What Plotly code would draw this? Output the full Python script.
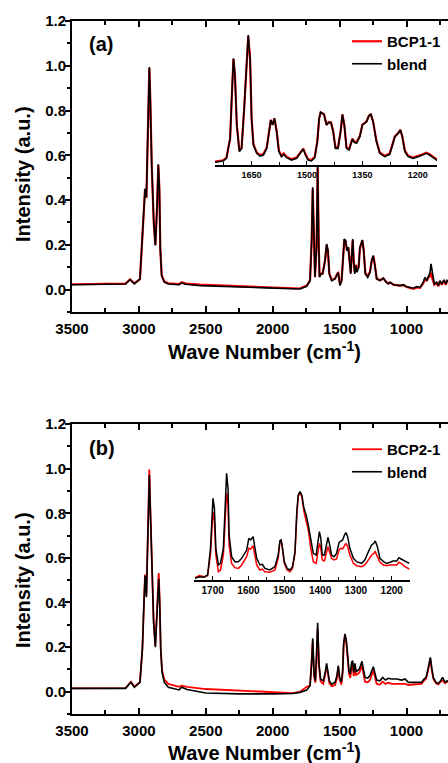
import plotly.graph_objects as go

# ---------------- data ----------------
# Panel (a) main spectrum
wn_a = [3500, 3300, 3100, 3066, 3034, 2992, 2979, 2967, 2954, 2944, 2937, 2930, 2922, 2915, 2904,
        2889, 2877, 2865, 2855, 2847, 2840, 2830, 2810, 2780, 2700, 2680, 2650, 2543, 2300, 2045,
        1796, 1746, 1721, 1709, 1701, 1691, 1684, 1672, 1664, 1656, 1650, 1641, 1627, 1609, 1597,
        1587, 1577, 1559, 1534, 1517, 1510, 1497, 1485, 1472, 1465, 1455, 1445, 1435, 1425, 1417,
        1410, 1402, 1395, 1387, 1380, 1370, 1358, 1348, 1340, 1330, 1320, 1308, 1290, 1273, 1260,
        1248, 1238, 1223, 1198, 1173, 1153, 1136, 1123, 1098, 1049, 1024, 999, 974, 949, 924,
        899, 874, 862, 849, 837, 824, 817, 807, 792, 775, 762, 750, 737, 720, 707, 697, 690]
blend_a = [0.022, 0.022, 0.025, 0.045, 0.026, 0.047, 0.182, 0.36, 0.45, 0.412, 0.629, 0.852, 0.995, 0.852, 0.554,
           0.301, 0.197, 0.36, 0.56, 0.45, 0.182, 0.063, 0.033, 0.025, 0.022, 0.03, 0.024, 0.018, 0.012, 0.008,
           0.003, 0.015, 0.04, 0.219, 0.457, 0.219, 0.055, 0.2, 0.548, 0.2, 0.055, 0.07, 0.07, 0.13, 0.204,
           0.174, 0.07, 0.04, 0.048, 0.07, 0.075, 0.018, 0.04, 0.159, 0.226, 0.219, 0.174, 0.189, 0.115, 0.07,
           0.145, 0.226, 0.13, 0.07, 0.107, 0.077, 0.1, 0.189, 0.204, 0.222, 0.174, 0.07, 0.055, 0.077, 0.13,
           0.152, 0.115, 0.048, 0.04, 0.052, 0.033, 0.025, 0.033, 0.022, 0.018, 0.022, 0.013, 0.01, 0.006, 0.013,
           0.01, 0.033, 0.055, 0.04, 0.063, 0.077, 0.115, 0.07, 0.025, 0.033, 0.018, 0.04, 0.025, 0.044, 0.025, 0.04, 0.035]
bcp1_a = [0.024, 0.024, 0.027, 0.045, 0.028, 0.047, 0.18, 0.36, 0.45, 0.41, 0.63, 0.85, 0.99, 0.85, 0.55,
          0.30, 0.20, 0.36, 0.555, 0.45, 0.18, 0.065, 0.036, 0.028, 0.025, 0.033, 0.027, 0.022, 0.016, 0.01,
          0.005, 0.018, 0.042, 0.215, 0.45, 0.215, 0.058, 0.2, 0.545, 0.2, 0.058, 0.072, 0.072, 0.13, 0.2,
          0.17, 0.072, 0.043, 0.05, 0.072, 0.075, 0.022, 0.043, 0.16, 0.225, 0.215, 0.175, 0.19, 0.12, 0.075,
          0.145, 0.22, 0.13, 0.078, 0.11, 0.1, 0.1, 0.185, 0.2, 0.22, 0.175, 0.075, 0.06, 0.08, 0.13,
          0.15, 0.115, 0.05, 0.042, 0.05, 0.035, 0.028, 0.032, 0.022, 0.018, 0.02, 0.012, 0.008, 0.004, 0.01,
          0.008, 0.03, 0.05, 0.038, 0.055, 0.06, 0.075, 0.05, 0.022, 0.03, 0.015, 0.038, 0.022, 0.04, 0.022, 0.038, 0.033]

# Panel (a) inset (relative intensity, no axis shown)
wn_ia = [1749, 1727, 1718, 1708, 1703, 1699, 1695, 1690, 1683, 1677, 1670, 1663, 1659, 1654, 1650,
         1645, 1636, 1627, 1618, 1609, 1602, 1598, 1593, 1588, 1582, 1576, 1569, 1563, 1555, 1542,
         1528, 1517, 1510, 1504, 1497, 1488, 1479, 1472, 1467, 1463, 1454, 1447, 1441, 1435, 1429,
         1423, 1416, 1409, 1404, 1399, 1393, 1386, 1380, 1377, 1372, 1366, 1357, 1350, 1344, 1339,
         1332, 1327, 1321, 1312, 1303, 1290, 1276, 1269, 1262, 1253, 1247, 1242, 1235, 1226, 1213,
         1199, 1186, 1177, 1168, 1159, 1150, 1141]
blend_ia = [0.021, 0.031, 0.051, 0.205, 0.564, 0.821, 0.692, 0.308, 0.103, 0.128, 0.436, 0.872, 1.0, 0.821, 0.359,
            0.154, 0.09, 0.069, 0.077, 0.128, 0.256, 0.346, 0.308, 0.359, 0.256, 0.103, 0.064, 0.082, 0.056, 0.038,
            0.051, 0.09, 0.123, 0.077, 0.038, 0.031, 0.056, 0.18, 0.359, 0.405, 0.39, 0.308, 0.328, 0.326, 0.256,
            0.128, 0.128, 0.256, 0.39, 0.308, 0.128, 0.115, 0.18, 0.2, 0.174, 0.167, 0.218, 0.308, 0.321, 0.333,
            0.38, 0.39, 0.333, 0.18, 0.09, 0.064, 0.082, 0.154, 0.218, 0.244, 0.269, 0.218, 0.103, 0.064, 0.051,
            0.064, 0.082, 0.09, 0.077, 0.056, 0.038, 0.021]
bcp1_ia = [0.026, 0.036, 0.056, 0.205, 0.56, 0.815, 0.69, 0.31, 0.11, 0.133, 0.436, 0.865, 0.99, 0.815, 0.36,
           0.16, 0.097, 0.076, 0.084, 0.133, 0.256, 0.346, 0.31, 0.359, 0.258, 0.11, 0.071, 0.089, 0.063, 0.045,
           0.058, 0.095, 0.126, 0.084, 0.045, 0.038, 0.063, 0.183, 0.359, 0.405, 0.39, 0.31, 0.33, 0.328, 0.26,
           0.135, 0.135, 0.258, 0.388, 0.31, 0.135, 0.122, 0.185, 0.203, 0.18, 0.174, 0.222, 0.31, 0.323, 0.335,
           0.38, 0.388, 0.335, 0.186, 0.097, 0.071, 0.089, 0.158, 0.22, 0.246, 0.269, 0.222, 0.11, 0.071, 0.058,
           0.07, 0.088, 0.095, 0.083, 0.062, 0.044, 0.027]

# Panel (b) main spectrum
wn_b = [3500, 3300, 3100, 3059, 3034, 2992, 2974, 2962, 2954, 2944, 2937, 2930, 2922, 2915, 2905,
        2890, 2877, 2865, 2852, 2845, 2837, 2827, 2810, 2780, 2700, 2680, 2640, 2500, 2250, 2000,
        1850, 1796, 1746, 1721, 1709, 1701, 1691, 1681, 1671, 1664, 1654, 1642, 1622, 1607, 1597,
        1587, 1577, 1559, 1534, 1520, 1510, 1500, 1487, 1477, 1470, 1460, 1450, 1440, 1430, 1420,
        1410, 1402, 1395, 1385, 1377, 1367, 1353, 1343, 1333, 1323, 1310, 1290, 1273, 1260, 1248,
        1238, 1223, 1198, 1178, 1158, 1136, 1111, 1073, 1036, 1011, 986, 949, 912, 887, 869,
        854, 839, 829, 822, 812, 800, 780, 762, 745, 730, 712, 697, 690]
blend_b = [0.015, 0.015, 0.015, 0.042, 0.02, 0.042, 0.192, 0.401, 0.521, 0.424, 0.611, 0.821, 0.971, 0.821, 0.566,
           0.312, 0.199, 0.357, 0.506, 0.401, 0.192, 0.087, 0.042, 0.02, 0.008, 0.02, 0.01, -0.006, -0.01, -0.01,
           -0.008, -0.003, 0.007, 0.027, 0.124, 0.24, 0.079, 0.049, 0.169, 0.309, 0.124, 0.056, 0.049, 0.087, 0.127,
           0.094, 0.049, 0.034, 0.042, 0.072, 0.117, 0.064, 0.042, 0.094, 0.214, 0.259, 0.229, 0.162, 0.094, 0.079,
           0.132, 0.139, 0.087, 0.127, 0.091, 0.094, 0.102, 0.117, 0.136, 0.102, 0.064, 0.061, 0.072, 0.094, 0.112,
           0.087, 0.052, 0.049, 0.064, 0.052, 0.06, 0.057, 0.057, 0.052, 0.057, 0.042, 0.042, 0.039, 0.042, 0.057,
           0.064, 0.102, 0.139, 0.154, 0.109, 0.064, 0.042, 0.037, 0.049, 0.064, 0.042, 0.049, 0.045]
bcp2_b = [0.015, 0.015, 0.016, 0.045, 0.022, 0.044, 0.19, 0.40, 0.525, 0.43, 0.62, 0.83, 0.996, 0.83, 0.57,
          0.315, 0.205, 0.365, 0.532, 0.42, 0.2, 0.095, 0.055, 0.035, 0.022, 0.027, 0.022, 0.012, 0.004, -0.003,
          -0.006, 0.0, 0.022, 0.027, 0.12, 0.225, 0.07, 0.04, 0.15, 0.28, 0.11, 0.045, 0.035, 0.075, 0.112,
          0.083, 0.038, 0.025, 0.03, 0.06, 0.11, 0.055, 0.032, 0.085, 0.205, 0.255, 0.222, 0.15, 0.08, 0.062,
          0.115, 0.12, 0.07, 0.105, 0.075, 0.078, 0.085, 0.1, 0.115, 0.085, 0.045, 0.042, 0.052, 0.075, 0.095,
          0.07, 0.035, 0.032, 0.045, 0.035, 0.04, 0.035, 0.035, 0.033, 0.035, 0.03, 0.032, 0.033, 0.035, 0.05,
          0.058, 0.095, 0.13, 0.148, 0.1, 0.058, 0.038, 0.033, 0.045, 0.05, 0.038, 0.045, 0.042]

# Panel (b) inset (relative intensity, no axis shown)
wn_ib = [1749, 1737, 1724, 1714, 1706, 1702, 1699, 1695, 1691, 1684, 1678, 1670, 1665, 1661, 1657,
         1654, 1647, 1638, 1628, 1619, 1605, 1599, 1594, 1587, 1584, 1577, 1568, 1561, 1554, 1540,
         1526, 1517, 1512, 1509, 1506, 1500, 1492, 1484, 1477, 1470, 1465, 1461, 1456, 1451, 1445,
         1439, 1433, 1426, 1419, 1411, 1407, 1402, 1398, 1394, 1388, 1382, 1378, 1374, 1368, 1361,
         1354, 1347, 1343, 1337, 1332, 1328, 1323, 1317, 1307, 1298, 1284, 1275, 1265, 1256, 1250,
         1246, 1240, 1233, 1223, 1214, 1205, 1196, 1186, 1180, 1174, 1163, 1151]
blend_ib = [0.016, 0.031, 0.025, 0.047, 0.297, 0.609, 0.766, 0.672, 0.297, 0.141, 0.156, 0.297, 0.703, 1.0, 0.859,
            0.422, 0.219, 0.172, 0.172, 0.203, 0.281, 0.391, 0.375, 0.406, 0.344, 0.203, 0.141, 0.147, 0.109, 0.094,
            0.125, 0.234, 0.366, 0.375, 0.328, 0.172, 0.109, 0.094, 0.125, 0.266, 0.641, 0.797, 0.828, 0.797, 0.672,
            0.609, 0.516, 0.375, 0.25, 0.234, 0.344, 0.453, 0.391, 0.234, 0.234, 0.344, 0.4, 0.344, 0.234, 0.219,
            0.25, 0.353, 0.359, 0.375, 0.422, 0.444, 0.406, 0.297, 0.203, 0.172, 0.156, 0.188, 0.266, 0.328, 0.344,
            0.366, 0.313, 0.203, 0.172, 0.156, 0.166, 0.178, 0.178, 0.209, 0.197, 0.178, 0.156]
bcp2_ib = [0.022, 0.041, 0.031, 0.041, 0.234, 0.516, 0.641, 0.547, 0.234, 0.078, 0.094, 0.234, 0.547, 0.813, 0.703,
           0.328, 0.156, 0.116, 0.109, 0.141, 0.219, 0.297, 0.288, 0.322, 0.266, 0.141, 0.094, 0.103, 0.078, 0.072,
           0.094, 0.203, 0.366, 0.375, 0.313, 0.156, 0.094, 0.078, 0.109, 0.25, 0.609, 0.781, 0.819, 0.781, 0.641,
           0.563, 0.469, 0.297, 0.172, 0.156, 0.234, 0.344, 0.297, 0.188, 0.178, 0.266, 0.313, 0.266, 0.203, 0.188,
           0.197, 0.281, 0.297, 0.291, 0.328, 0.344, 0.313, 0.234, 0.156, 0.134, 0.125, 0.141, 0.188, 0.234, 0.25,
           0.266, 0.219, 0.166, 0.141, 0.134, 0.141, 0.141, 0.141, 0.166, 0.156, 0.125, 0.103]

x_ticks_main = [3500, 3000, 2500, 2000, 1500, 1000]
y_ticks_main = [0.0, 0.2, 0.4, 0.6, 0.8, 1.0, 1.2]
x_ticks_ia = [1650, 1500, 1350, 1200]
x_ticks_ib = [1700, 1600, 1500, 1400, 1300, 1200]

# ---------------- layout helpers ----------------
W, H = 448, 763
def fx(px):
    return px / W
def fy(py):
    return 1 - py / H

FONT = "Arial, Liberation Sans, sans-serif"
RED = "#ff0000"
BLACK = "#000000"

fig = go.Figure()

# main (a)
fig.add_trace(go.Scatter(x=wn_a, y=bcp1_a, mode="lines", name="BCP1-1",
                         line=dict(color=RED, width=2.2), xaxis="x", yaxis="y", legend="legend"))
fig.add_trace(go.Scatter(x=wn_a, y=blend_a, mode="lines", name="blend",
                         line=dict(color=BLACK, width=1.6), xaxis="x", yaxis="y", legend="legend"))
# inset (a)
fig.add_trace(go.Scatter(x=wn_ia, y=bcp1_ia, mode="lines", showlegend=False,
                         line=dict(color=RED, width=2.2), xaxis="x2", yaxis="y2"))
fig.add_trace(go.Scatter(x=wn_ia, y=blend_ia, mode="lines", showlegend=False,
                         line=dict(color=BLACK, width=1.6), xaxis="x2", yaxis="y2"))
# main (b)
fig.add_trace(go.Scatter(x=wn_b, y=bcp2_b, mode="lines", name="BCP2-1",
                         line=dict(color=RED, width=1.8), xaxis="x3", yaxis="y3", legend="legend2"))
fig.add_trace(go.Scatter(x=wn_b, y=blend_b, mode="lines", name="blend",
                         line=dict(color=BLACK, width=1.6), xaxis="x3", yaxis="y3", legend="legend2"))
# inset (b)
fig.add_trace(go.Scatter(x=wn_ib, y=bcp2_ib, mode="lines", showlegend=False,
                         line=dict(color=RED, width=1.5), xaxis="x4", yaxis="y4"))
fig.add_trace(go.Scatter(x=wn_ib, y=blend_ib, mode="lines", showlegend=False,
                         line=dict(color=BLACK, width=1.5), xaxis="x4", yaxis="y4"))

tickfont_main = dict(family=FONT, size=15, color=BLACK, weight="bold")

def main_x(anchor):
    return dict(domain=[fx(72), 1.0], range=[3500, 690], anchor=anchor, automargin=False,
                showline=True, linewidth=2, linecolor=BLACK, mirror="ticks",
                ticks="inside", ticklen=6, tickwidth=1.5, tickcolor=BLACK,
                tickvals=x_ticks_main, tickfont=tickfont_main, ticklabelstandoff=2,
                minor=dict(ticks="inside", ticklen=4, tickwidth=1.5, tickcolor=BLACK, dtick=250, tick0=0),
                showgrid=False, zeroline=False)

def main_y(anchor, top_px, bottom_px):
    return dict(domain=[fy(bottom_px), fy(top_px)], range=[-0.1, 1.2001], anchor=anchor, automargin=False,
                showline=True, linewidth=2, linecolor=BLACK,
                ticks="outside", ticklen=5, tickwidth=1.5, tickcolor=BLACK,
                tickvals=y_ticks_main, tickformat=".1f", tickfont=tickfont_main, ticklabelstandoff=-4,
                minor=dict(ticks="outside", ticklen=3, tickwidth=1.5, tickcolor=BLACK, dtick=0.1, tick0=0),
                showgrid=False, zeroline=False)

def inset_x(anchor, x0, x1, rng, vals, dminor, fsize):
    return dict(domain=[fx(x0), fx(x1)], range=rng, anchor=anchor, automargin=False,
                showline=True, linewidth=1.5, linecolor=BLACK,
                ticks="inside", ticklen=4, tickwidth=1, tickcolor=BLACK,
                tickvals=vals, tickfont=dict(family=FONT, size=fsize, color=BLACK, weight="bold"),
                minor=dict(ticks="inside", ticklen=3, tickwidth=1, tickcolor=BLACK, dtick=dminor, tick0=0),
                showgrid=False, zeroline=False)

fig.update_layout(
    width=W, height=H,
    margin=dict(l=0, r=0, t=0, b=0, pad=0, autoexpand=False),
    paper_bgcolor="white", plot_bgcolor="rgba(0,0,0,0)",
    xaxis=main_x("y"),
    yaxis=main_y("x", 21, 312),
    xaxis3=main_x("y3"),
    yaxis3=main_y("x3", 424, 714),
    xaxis2=inset_x("y2", 215, 437, [1749, 1148], x_ticks_ia, 75, 9),
    yaxis2=dict(domain=[fy(165), fy(165 - 1.08 * 130)], range=[0, 1.08], anchor="x2", visible=False),
    xaxis4=inset_x("y4", 194, 410, [1752, 1149], x_ticks_ib, 50, 10),
    yaxis4=dict(domain=[fy(580), fy(580 - 1.2 * 106.67)], range=[0, 1.2], anchor="x4", visible=False),
    legend=dict(x=fx(347), y=fy(25), xanchor="left", yanchor="top", bgcolor="rgba(0,0,0,0)",
                font=dict(family=FONT, size=15, color=BLACK, weight="bold"), borderwidth=0,
                tracegroupgap=0),
    legend2=dict(x=fx(347), y=fy(433), xanchor="left", yanchor="top", bgcolor="rgba(0,0,0,0)",
                 font=dict(family=FONT, size=15, color=BLACK, weight="bold"), borderwidth=0,
                 tracegroupgap=0),
)

ann_font_title = dict(family=FONT, size=20, color=BLACK, weight="bold")
annotations = [
    dict(text="(a)", x=fx(87), y=fy(44), xref="paper", yref="paper", xanchor="left", yanchor="middle",
         showarrow=False, font=dict(family=FONT, size=20, color=BLACK, weight="bold")),
    dict(text="(b)", x=fx(87), y=fy(448), xref="paper", yref="paper", xanchor="left", yanchor="middle",
         showarrow=False, font=dict(family=FONT, size=20, color=BLACK, weight="bold")),
    dict(text="Intensity (a.u.)", x=fx(23), y=fy(174), xref="paper", yref="paper", textangle=-90,
         xanchor="center", yanchor="middle", showarrow=False, font=ann_font_title),
    dict(text="Intensity (a.u.)", x=fx(23), y=fy(580), xref="paper", yref="paper", textangle=-90,
         xanchor="center", yanchor="middle", showarrow=False, font=ann_font_title),
    dict(text="Wave Number (cm<sup>-1</sup>)", x=fx(264), y=fy(351), xref="paper", yref="paper",
         xanchor="center", yanchor="middle", showarrow=False, font=ann_font_title),
    dict(text="Wave Number (cm<sup>-1</sup>)", x=fx(264), y=fy(751), xref="paper", yref="paper",
         xanchor="center", yanchor="middle", showarrow=False, font=ann_font_title),
]
fig.update_layout(annotations=annotations)

fig.write_html("out.html", config={"displayModeBar": False},
               post_script="document.body.style.margin='0px'; document.body.style.overflow='hidden';")
